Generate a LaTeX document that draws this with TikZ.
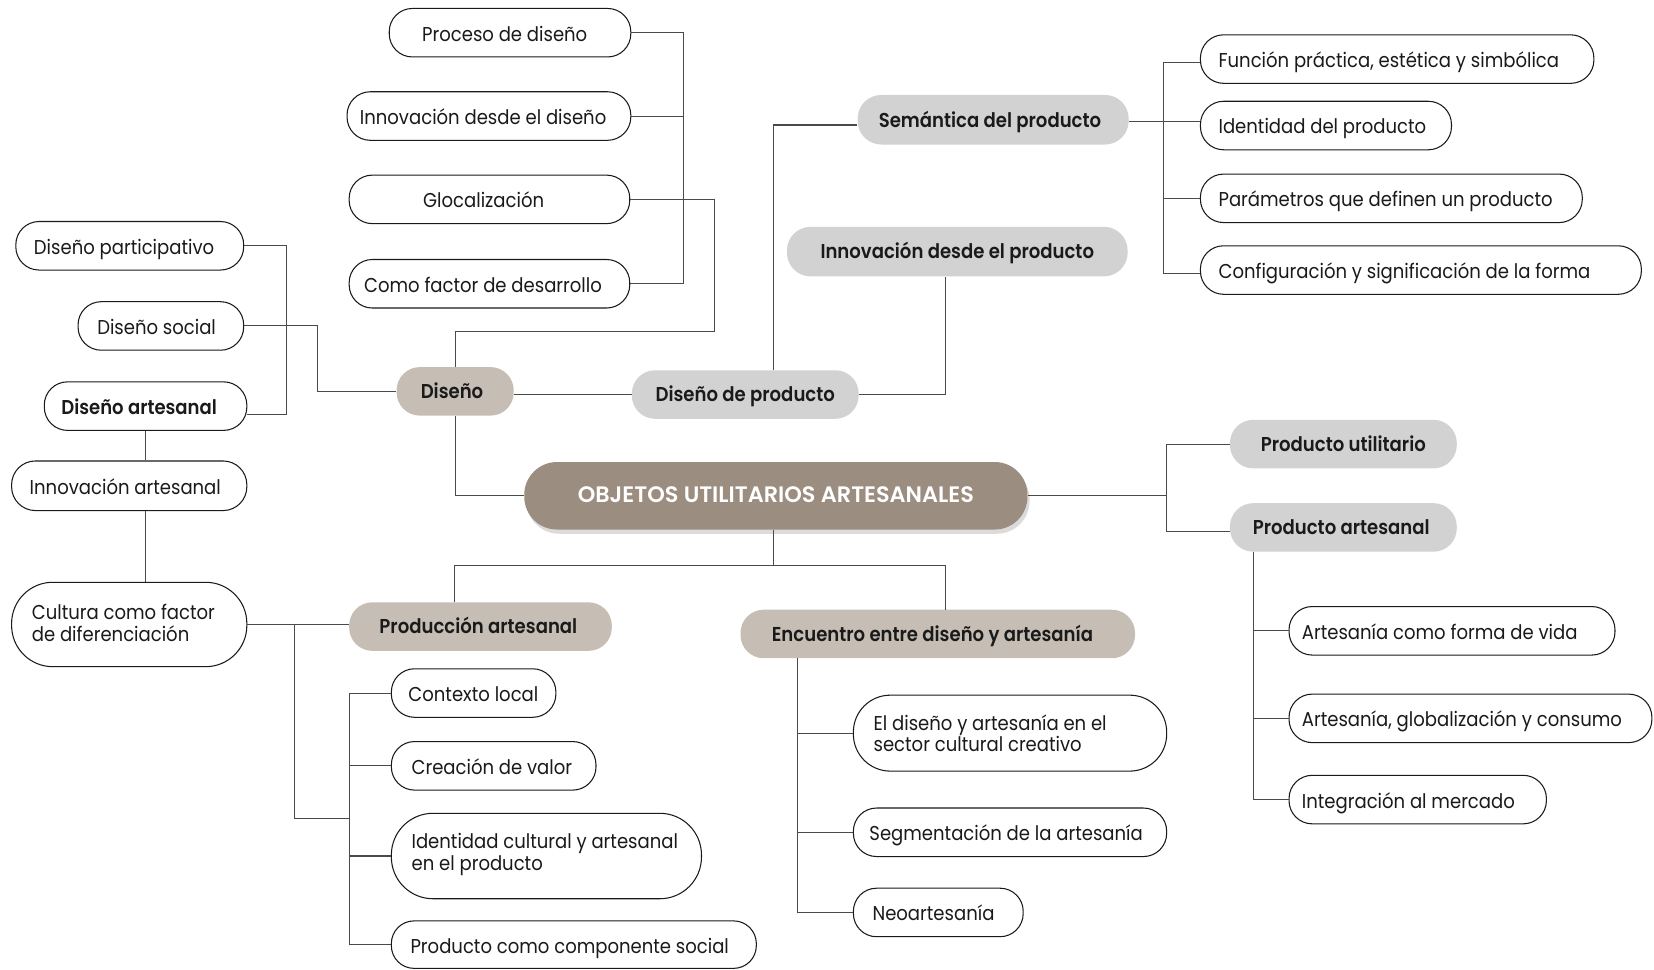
\documentclass[tikz,border=0pt]{standalone}
\usepackage{fontspec}
\setmainfont{Poppins}[FakeStretch=0.90, BoldFont={Poppins SemiBold}]
\newfontfamily\titlefont{Poppins SemiBold}
\usetikzlibrary{shadows}

\definecolor{rootfill}{HTML}{9B8D80}
\definecolor{taupe}{HTML}{C6BEB5}
\definecolor{hubgray}{HTML}{D2D2D2}
\definecolor{wire}{HTML}{4A4A4A}
\definecolor{ink}{HTML}{1A1A1A}

% white capsule with one line of text starting #6 after its left edge
\newcommand\leafnode[7]{% name, x0, x1, y0, y1, pad, text
  \pgfmathsetmacro\lbw{#3-#2}%
  \pgfmathsetmacro\lbh{#5-#4}%
  \pgfmathsetmacro\lbr{(#5-#4)/2-1}%
  \pgfmathsetmacro\lcy{(#4+#5)/2}%
  \node[leafshape, rounded corners=\lbr pt, minimum width=\lbw pt,
        minimum height=\lbh pt] (#1) at ({(#2+#3)/2},\lcy) {};
  \node[leaftext, yshift=-8pt] at ({#2+#6},\lcy) {#7};
}
% white capsule with two lines of text; #7 moves the text block down
\newcommand\leaftwo[9]{% name, x0, x1, y0, y1, pad, drop, line 1, line 2
  \pgfmathsetmacro\lbw{#3-#2}%
  \pgfmathsetmacro\lbh{#5-#4}%
  \pgfmathsetmacro\lbr{(#5-#4)/2-1}%
  \pgfmathsetmacro\lcy{(#4+#5)/2}%
  \node[leafshape, rounded corners=\lbr pt, minimum width=\lbw pt,
        minimum height=\lbh pt] (#1) at ({(#2+#3)/2},\lcy) {};
  \node[leaftext, yshift=7.3pt] at ({#2+#6},{\lcy+#7}) {#8};
  \node[leaftext, yshift=-13.3pt] at ({#2+#6},{\lcy+#7}) {#9};
}
% filled capsule with centred text
\newcommand\hubnode[8]{% name, x0, x1, y0, y1, shape style, text style, text
  \pgfmathsetmacro\hbw{#3-#2}%
  \pgfmathsetmacro\hbh{#5-#4}%
  \pgfmathsetmacro\hbr{(#5-#4)/2-1}%
  \pgfmathsetmacro\hcx{(#2+#3)/2}%
  \pgfmathsetmacro\hcy{(#4+#5)/2}%
  \node[#6, rounded corners=\hbr pt, minimum width=\hbw pt,
        minimum height=\hbh pt, inner sep=0pt] (#1) at (\hcx,\hcy) {};
  \node[#7] at (\hcx,\hcy) {#8};
}

\tikzset{
  leafshape/.style={draw=ink, line width=1pt, fill=white, inner sep=0pt},
  leaftext/.style={anchor=base west, inner sep=0pt, text=ink,
    font=\fontsize{19}{23}\selectfont},
  taupehub/.style={fill=taupe},
  grayhub/.style={fill=hubgray},
  roothub/.style={fill=rootfill,
    drop shadow={opacity=0.28, shadow xshift=2pt, shadow yshift=-4pt}},
  hubtext/.style={anchor=base, inner sep=0pt, text=ink, yshift=-7pt,
    font=\fontsize{19.05}{23}\selectfont\bfseries},
  titletext/.style={anchor=base, inner sep=0pt, text=white, yshift=-6.3pt,
    font=\titlefont\fontsize{21.2}{25}\selectfont},
  conn/.style={draw=wire, line width=1pt},
}

\begin{document}
\begin{tikzpicture}[x=1pt, y=-1pt]
\useasboundingbox[fill=white] (0,0) rectangle (1568,919);

% ---- central topic and main branches
\hubnode{obj}{497}{974}{438}{502}{roothub}{titletext}{OBJETOS UTILITARIOS ARTESANALES}
\hubnode{dis}{376}{487}{348}{394}{taupehub}{hubtext, xshift=-3pt}{Diseño}
\hubnode{ddp}{599}{814}{351}{397}{grayhub}{hubtext}{Diseño de producto}
\hubnode{sem}{813}{1070}{90}{137}{grayhub}{hubtext, xshift=-3pt}{Semántica del producto}
\hubnode{idpr}{746}{1069}{215}{262}{grayhub}{hubtext}{Innovación desde el producto}
\hubnode{put}{1166}{1381}{398}{444}{grayhub}{hubtext}{Producto utilitario}
\hubnode{par}{1166}{1381}{477}{523}{grayhub}{hubtext, xshift=-2pt}{Producto artesanal}
\hubnode{pro}{331}{580}{571}{617}{taupehub}{hubtext, xshift=-2pt}{Producción artesanal}
\hubnode{enc}{702}{1076}{578}{624}{taupehub}{hubtext, xshift=-5pt}{Encuentro entre diseño y artesanía}

% ---- design column at the top
\leafnode{pd}{369}{598}{8}{54}{31}{Proceso de diseño}
\leafnode{ide}{329}{598}{87}{133}{12}{Innovación desde el diseño}
\leafnode{glo}{331}{597}{166}{212}{70}{Glocalización}
\leafnode{cfd}{331}{597}{246}{292}{14}{Como factor de desarrollo}

% ---- left column
\leafnode{dpa}{15}{231}{210}{256}{17}{Diseño participativo}
\leafnode{dso}{74}{231}{286}{332}{18}{Diseño social}
\leafnode{dar}{42}{234}{362}{408}{16}{\bfseries Diseño artesanal}
\leafnode{ina}{11}{234}{437}{484}{17}{Innovación artesanal}
\leaftwo{cul}{11}{234}{552}{632}{19}{3}{Cultura como factor}{de diferenciación}

% ---- production leaves
\leafnode{col}{371}{527}{634}{680}{16}{Contexto local}
\leafnode{cva}{371}{565}{703}{749}{19}{Creación de valor}
\leaftwo{icp}{371}{665}{771}{852}{19}{0}{Identidad cultural y artesanal}{en el producto}
\leafnode{pcs}{371}{717}{873}{918}{18}{Producto como componente social}

% ---- product semantics leaves
\leafnode{fpe}{1138}{1511}{33}{79}{17}{Función práctica, estética y simbólica}
\leafnode{idp}{1138}{1376}{96}{142}{17}{Identidad del producto}
\leafnode{pdp}{1138}{1500}{165}{211}{17}{Parámetros que definen un producto}
\leafnode{csf}{1138}{1556}{233}{279}{17}{Configuración y significación de la forma}

% ---- craft product leaves
\leafnode{acv}{1222}{1531}{575}{621}{12}{Artesanía como forma de vida}
\leafnode{agc}{1222}{1566}{658}{704}{12}{Artesanía, globalización y consumo}
\leafnode{iam}{1222}{1466}{735}{781}{12}{Integración al mercado}

% ---- design/craft encounter leaves
\leaftwo{dsc}{809}{1106}{659}{731}{19}{4.5}{El diseño y artesanía en el}{sector cultural creativo}
\leafnode{sda}{809}{1106}{766}{812}{15}{Segmentación de la artesanía}
\leafnode{neo}{809}{970}{842}{888}{18}{Neoartesanía}

% ---- routing coordinates
\coordinate (bx) at (648,0);    % bracket of the design column
\coordinate (gl) at (677,314);  % Glocalización elbow
\coordinate (ds) at (301,0);    % Diseño social elbow
\coordinate (pb) at (272,0);    % participativo / artesanal bracket
\coordinate (ax) at (138,0);    % artisanal spine
\coordinate (cb) at (279,592);  % branch from the Cultura line
\coordinate (pv) at (331,776);  % production leaves bracket
\coordinate (pl) at (431,536);  % lower bar, left end
\coordinate (el) at (896,536);  % lower bar, right end
\coordinate (rb) at (1106,0);   % right bracket
\coordinate (pa) at (1188,0);   % craft product spine
\coordinate (ea) at (756,0);    % encounter spine
\coordinate (dv) at (733,0);    % Diseño de producto riser
\coordinate (iv) at (896,0);    % innovation riser
\coordinate (sv) at (1103,0);   % semantics bracket

% ---- connectors
\draw[conn] (pd.east) -| (bx |- cfd.east) -- (cfd.east);
\draw[conn] (ide.east) -- (ide.east -| bx);
\draw[conn] (glo.east) -| (gl) -| (dis.north);

\draw[conn] (dpa.east) -| (pb |- 0,393) -- ([yshift=-8pt]dar.east);
\draw[conn] (dso.east) -| (ds |- dis.west) -- (dis.west);
\draw[conn] (ax |- dar.south) -- (ax |- ina.north);
\draw[conn] (ax |- ina.south) -- (ax |- cul.north);

\draw[conn] (dis.south) |- (obj.west);
\draw[conn] ([yshift=-3pt]dis.east) -- ([yshift=-3pt]dis.east -| ddp.west);
\draw[conn] (dv |- ddp.north) |- ([yshift=-5pt]sem.west);
\draw[conn] (ddp.east) -| (iv |- idpr.south);

\draw[conn] ([yshift=-3pt]fpe.west) -| (sv |- 0,259) -- ([yshift=-3pt]csf.west);
\draw[conn] ([yshift=4pt]idp.west) -- ([yshift=4pt]idp.west -| sv);
\draw[conn] (pdp.west) -- (pdp.west -| sv);
\draw[conn] ([yshift=-1.5pt]sem.east) -- ([yshift=-1.5pt]sem.east -| sv);

\draw[conn] (cul.east) -- (cul.east -| pro.west);
\draw[conn] (cb) |- (pv);
\draw[conn] (col.west) -| (pv |- pcs.west) -- (pcs.west);
\draw[conn] (cva.west) -- (cva.west -| pv);
\draw[conn] (icp.west) -- (icp.west -| pv);

\draw[conn] (obj.south -| dv) -- (dv |- pl);
\draw[conn] (pl |- pro.north) -- (pl) -- (el) -- (el |- enc.north);

\draw[conn] (obj.east) -- (obj.east -| rb);
\draw[conn] (put.west) -| (rb |- 0,504) -- ([yshift=-4pt]par.west);
\draw[conn] (pa |- par.south) |- (iam.west);
\draw[conn] (acv.west) -- (acv.west -| pa);
\draw[conn] (agc.west) -- (agc.west -| pa);

\draw[conn] (ea |- enc.south) |- (neo.west);
\draw[conn] (dsc.west) -- (dsc.west -| ea);
\draw[conn] (sda.west) -- (sda.west -| ea);
\end{tikzpicture}
\end{document}
